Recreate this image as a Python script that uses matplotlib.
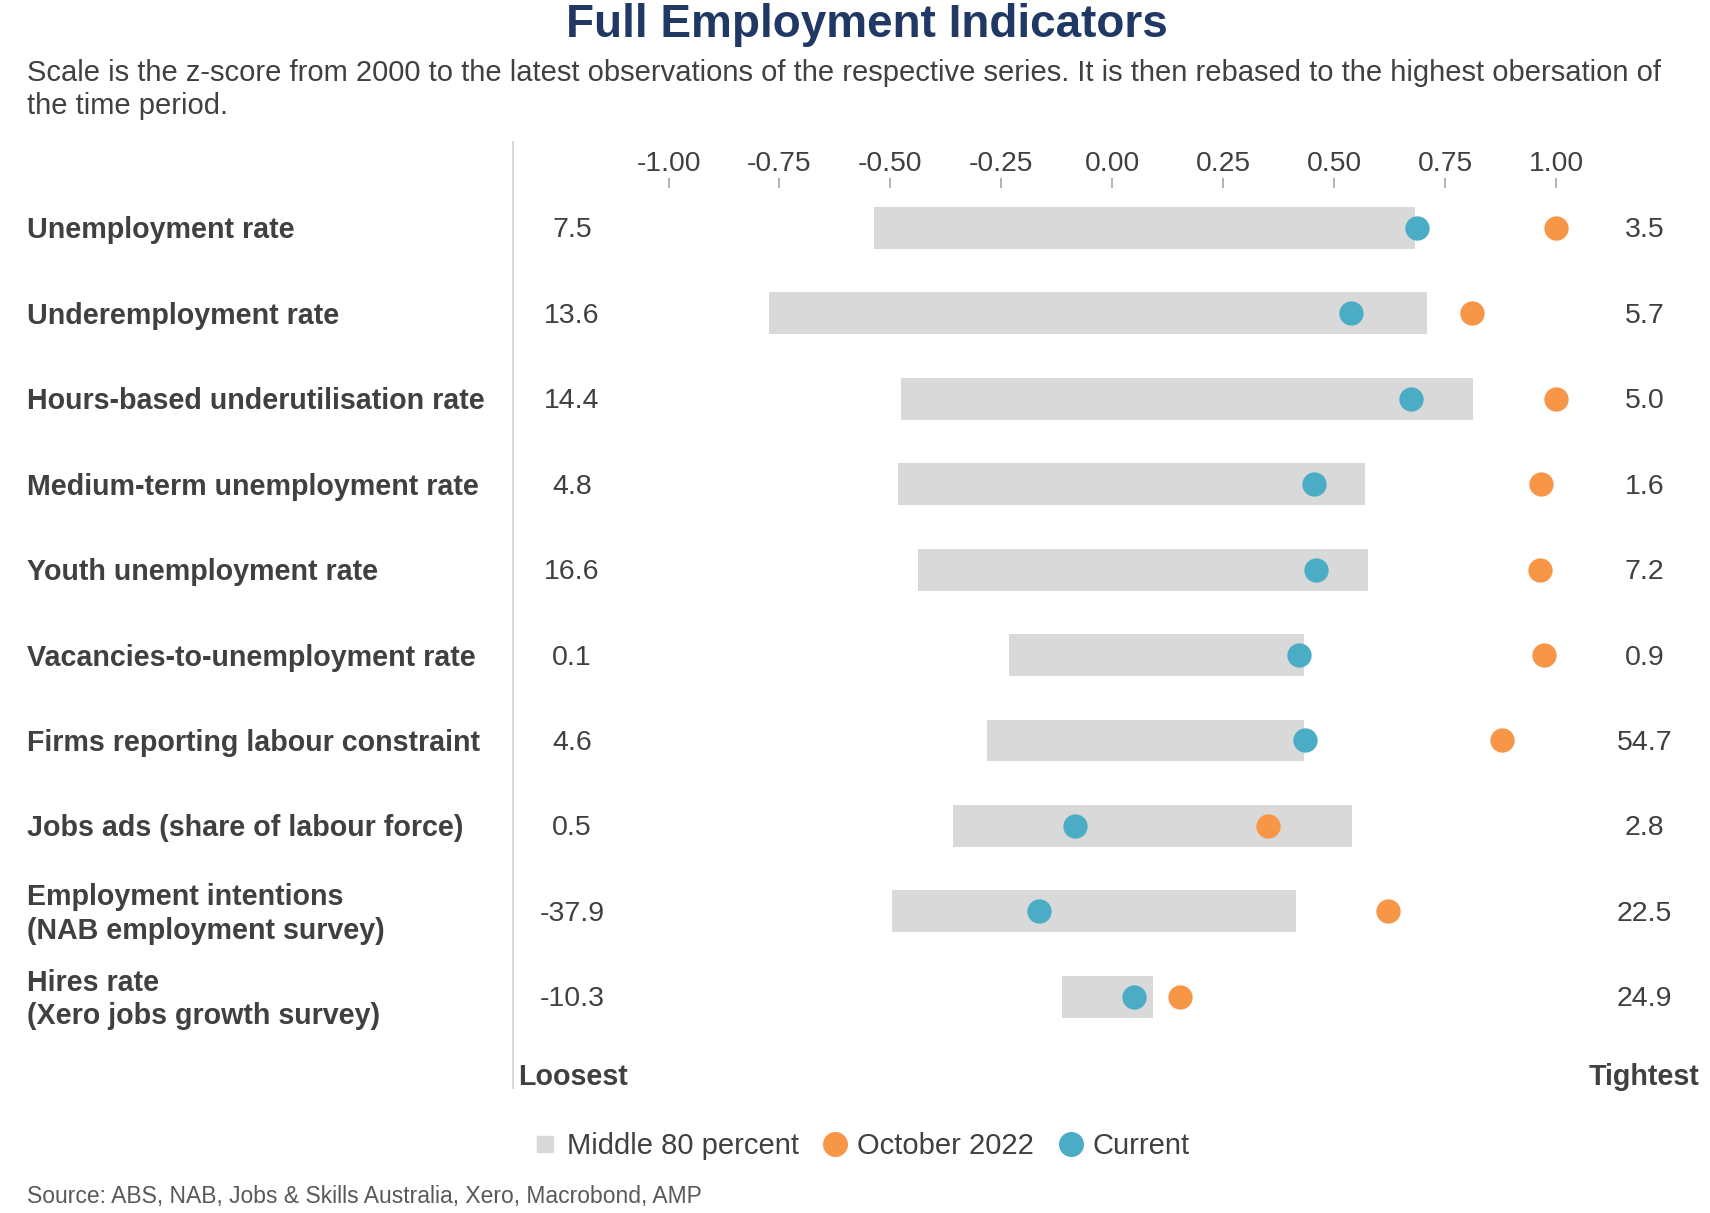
import matplotlib
matplotlib.use("Agg")
import matplotlib.pyplot as plt
from matplotlib.lines import Line2D
import matplotlib.transforms as mtransforms

plt.rcParams['font.family'] = ['Liberation Sans', 'DejaVu Sans']

# ---------------- data ----------------
categories = [
    "Unemployment rate",
    "Underemployment rate",
    "Hours-based underutilisation rate",
    "Medium-term unemployment rate",
    "Youth unemployment rate",
    "Vacancies-to-unemployment rate",
    "Firms reporting labour constraint",
    "Jobs ads (share of labour force)",
    "Employment intentions\n(NAB employment survey)",
    "Hires rate\n(Xero jobs growth survey)",
]
band_low = [-0.538, -0.774, -0.477, -0.482, -0.437, -0.233, -0.283, -0.359, -0.496, -0.113]
band_high = [0.681, 0.708, 0.813, 0.570, 0.575, 0.432, 0.432, 0.541, 0.413, 0.091]
current = [0.686, 0.538, 0.673, 0.455, 0.459, 0.420, 0.435, -0.084, -0.165, 0.049]
oct_2022 = [1.000, 0.811, 1.000, 0.966, 0.963, 0.973, 0.877, 0.351, 0.622, 0.152]
loosest_vals = ["7.5", "13.6", "14.4", "4.8", "16.6", "0.1", "4.6", "0.5", "-37.9", "-10.3"]
tightest_vals = ["3.5", "5.7", "5.0", "1.6", "7.2", "0.9", "54.7", "2.8", "22.5", "24.9"]
xticks = [-1.00, -0.75, -0.50, -0.25, 0.00, 0.25, 0.50, 0.75, 1.00]

# ---------------- style ----------------
W, H = 1710, 1213
C_BAR = "#d9d9d9"
C_ORANGE = "#f79646"
C_BLUE = "#4bacc6"
C_TEXT = "#404040"
C_TITLE = "#1f3864"

fig = plt.figure(figsize=(W / 100, H / 100), dpi=100)

def fx(px):
    return px / W

def fy(py):
    return 1 - py / H

ax_left, ax_right, ax_top, ax_bottom = 512.5, 1710, 187.6, 1088.3
ax = fig.add_axes([fx(ax_left), fy(ax_bottom), (ax_right - ax_left) / W, (ax_bottom - ax_top) / H])

n = len(categories)
ypos = list(range(n))
widths = [h - l for l, h in zip(band_low, band_high)]
ax.barh(ypos, widths, left=band_low, height=0.49, color=C_BAR, zorder=1)
ax.scatter(current, ypos, s=17.5 ** 2, color=C_BLUE, zorder=3, linewidths=0)
ax.scatter(oct_2022, ypos, s=17.5 ** 2, color=C_ORANGE, zorder=3, linewidths=0)

ax.set_xlim(-1.3515, 1.3465)
ax.set_ylim(10.072, -0.472)

ax.xaxis.tick_top()
ax.set_xticks(xticks)
ax.set_xticklabels([f"{t:.2f}" for t in xticks])
ax.tick_params(axis='x', which='both', direction='out', length=7, width=1.2,
               color="#a6a6a6", labelsize=20.3, labelcolor=C_TEXT, pad=0.5)
ax.set_yticks([])
for s in ax.spines.values():
    s.set_visible(False)

dy = 0.03  # small optical offset for text centring

# value labels
for i in range(n):
    ax.text(-1.2174, i + dy, loosest_vals[i], ha='center', va='center', fontsize=20.5, color=C_TEXT)
    ax.text(1.199, i + dy, tightest_vals[i], ha='center', va='center', fontsize=20.5, color=C_TEXT)

# category labels
trans = mtransforms.blended_transform_factory(fig.transFigure, ax.transData)
for i, c in enumerate(categories):
    ax.text(fx(27), i + dy, c, transform=trans, ha='left', va='center', fontsize=20.6,
            fontweight='bold', color=C_TEXT, linespacing=1.25, clip_on=False)

ax.text(-1.339, 9.91 + dy, "Loosest", ha='left', va='center', fontsize=20.6, fontweight='bold', color=C_TEXT)
ax.text(1.3225, 9.91 + dy, "Tightest", ha='right', va='center', fontsize=20.6, fontweight='bold', color=C_TEXT)

# vertical separator line
fig.add_artist(Line2D([fx(512.5), fx(512.5)], [fy(141.8), fy(1088.3)], color="#d9d9d9", lw=1.5,
                      transform=fig.transFigure))

# title & subtitle
fig.text(fx(867), fy(37), "Full Employment Indicators", ha='center', va='baseline',
         fontsize=33, fontweight='bold', color=C_TITLE)
fig.text(fx(27), fy(73), "Scale is the z-score from 2000 to the latest observations of the respective series. "
         "It is then rebased to the highest obersation of", ha='left', va='center', fontsize=21, color=C_TEXT)
fig.text(fx(27), fy(106), "the time period.", ha='left', va='center', fontsize=21, color=C_TEXT)

# legend
handles = [
    Line2D([], [], marker='s', linestyle='none', markersize=11, color=C_BAR, label="Middle 80 percent"),
    Line2D([], [], marker='o', linestyle='none', markersize=17, color=C_ORANGE, label="October 2022"),
    Line2D([], [], marker='o', linestyle='none', markersize=17, color=C_BLUE, label="Current"),
]
leg = fig.legend(handles=handles, loc='center', bbox_to_anchor=(fx(860), fy(1146)), ncol=3,
                 frameon=False, fontsize=21, handletextpad=0.25, columnspacing=0.75,
                 handlelength=1.0, borderpad=0)
for t in leg.get_texts():
    t.set_color(C_TEXT)

# source
fig.text(fx(27), fy(1196), "Source: ABS, NAB, Jobs & Skills Australia, Xero, Macrobond, AMP",
         ha='left', va='center', fontsize=16.5, color="#595959")

fig.savefig("out.png", dpi=100)
